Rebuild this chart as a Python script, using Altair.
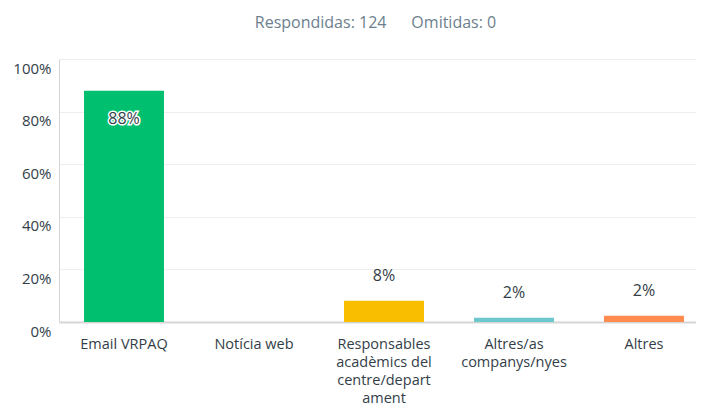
import altair as alt
import pandas as pd

categories = ["Email VRPAQ", "Notícia web", "Responsables acadèmics del centre/depart ament", "Altres/as companys/nyes", "Altres"]
label_lines = [["Email VRPAQ"], ["Notícia web"], ["Responsables", "acadèmics del", "centre/depart", "ament"], ["Altres/as", "companys/nyes"], ["Altres"]]
values = [87.90, 0.0, 8.06, 1.61, 2.42]
bar_labels = ["88%", "", "8%", "2%", "2%"]
colors = ["#00BF6F", "#00BF6F", "#F9BE00", "#6BC8CD", "#FF8B4F"]
y_ticks = [0, 10, 20, 30, 40, 50, 60, 70, 80, 90, 100]

df = pd.DataFrame({"cat": categories, "value": values, "label": bar_labels, "color": colors})

label_expr = " : ".join(
    [f"datum.value == {repr(c)} ? {repr(l)}" for c, l in zip(categories, label_lines)]
) + " : datum.value"

FONT = "Open Sans"

x = alt.X(
    "cat:N",
    sort=categories,
    title=None,
    scale=alt.Scale(paddingInner=0.385, paddingOuter=0.1925, range=[0, 650]),
    axis=alt.Axis(
        labelAngle=0,
        ticks=False,
        labelPadding=15,
        labelFontSize=14.5,
        labelFont=FONT,
        labelColor="#333e48",
        labelLineHeight=18.2,
        labelExpr=label_expr,
        domainColor="#d5d5d5",
        domainWidth=2,
        labelLimit=200,
    ),
)

y = alt.Y(
    "value:Q",
    title=None,
    scale=alt.Scale(domain=[0, 100], nice=False),
    axis=alt.Axis(
        values=y_ticks,
        labelExpr="datum.value % 20 == 0 ? datum.value + '%' : ''",
        ticks=False,
        labelPadding=8,
        labelOffset=9,
        labelFontSize=15,
        labelFont=FONT,
        labelColor="#333e48",
        gridColor="#eeeeee",
        domainColor="#d5d5d5",
    ),
)

bars = alt.Chart(df).mark_bar().encode(
    x=x,
    y=y,
    color=alt.Color("color:N", scale=None, legend=None),
)

inside = df[df["value"] > 50]
outside = df[(df["value"] <= 50) & (df["label"] != "")]

txt_kw = dict(fontSize=16, font=FONT, fontWeight=500, baseline="middle", align="center")

inside_halo = alt.Chart(inside).mark_text(dy=28, stroke="white", strokeWidth=3, fill="white", **txt_kw).encode(
    x=alt.X("cat:N", sort=categories), y="value:Q", text="label:N"
)
inside_txt = alt.Chart(inside).mark_text(dy=28, color="#333e48", **txt_kw).encode(
    x=alt.X("cat:N", sort=categories), y="value:Q", text="label:N"
)
outside_txt = alt.Chart(outside).mark_text(dy=-25, color="#333e48", **txt_kw).encode(
    x=alt.X("cat:N", sort=categories), y="value:Q", text="label:N"
)

chart = (
    alt.layer(bars, inside_halo, inside_txt, outside_txt)
    .properties(
        width=637,
        height=263,
        padding={"left": 51, "top": 51, "right": 0, "bottom": 87},
        autosize=alt.AutoSizeParams(type="none"),
        title=alt.TitleParams(
            text="Respondidas: 124\u00a0\u00a0\u00a0\u00a0\u00a0\u00a0Omitidas: 0",
            font=FONT,
            fontSize=16,
            fontWeight="normal",
            color="#6d7f8e",
            anchor="middle",
            offset=28,
            dx=-2,
        ),
    )
    .configure_view(stroke=None)
)

chart.save("out.html", embed_options={"renderer": "svg", "actions": False})
